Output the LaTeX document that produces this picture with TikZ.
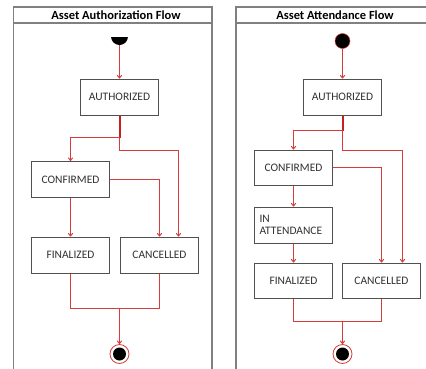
\documentclass[tikz,border=0pt]{standalone}
\usepackage{fontspec}
\setmainfont{Carlito}
\usetikzlibrary{arrows.meta}
\definecolor{flowred}{RGB}{214,60,60}
\definecolor{flowdark}{RGB}{200,30,30}
\definecolor{framegray}{RGB}{128,128,128}
\definecolor{boxgray}{RGB}{80,80,80}
\definecolor{labelgray}{RGB}{50,50,50}
\tikzset{
  panel/.style={draw=framegray, line width=1.2bp},
  title/.style={font=\fontsize{12.5}{14}\selectfont\bfseries, text=black},
  state/.style={draw=boxgray, line width=1bp, fill=white, inner sep=0pt,
    font=\fontsize{11.5}{13}\selectfont, text=labelgray},
  link/.style={color=flowred, line width=1bp},
  flow/.style={link, -{To[length=3.5bp,width=5bp]}},
  trunk/.style={color=flowdark, line width=2bp},
  endstate/.style={circle, draw=flowred, line width=0.8bp, minimum size=19bp, inner sep=0pt,
    path picture={\fill[black] (path picture bounding box.center) circle (6.5bp);}},
}
\begin{document}
\begin{tikzpicture}[x=1bp,y=-1bp]
\clip (0,0) rectangle (426,369);
\fill[white] (0,0) rectangle (426,369);

% ---------- left panel: authorization ----------
\draw[panel] (13.5,380) -- (13.5,7) -- (212,7) -- (212,380);
\draw[panel] (13.5,23) -- (212,23);
\node[title] (ltitle) at (116,15) {Asset Authorization Flow};

\node[circle, minimum size=17bp, inner sep=0pt,
  path picture={\fill[black] (path picture bounding box.south west) rectangle (path picture bounding box.east);}]
  (lstart) at (119.5,36.5) {};
\node[state, minimum width=77bp, minimum height=36bp] (lauth) at (119.5,97) {AUTHORIZED};
\node[state, minimum width=77bp, minimum height=36bp] (lconf) at (70.5,179.5) {CONFIRMED};
\node[state, minimum width=77bp, minimum height=36bp] (lfin) at (70.5,255) {FINALIZED};
\node[state, minimum width=78bp, minimum height=36bp] (lcanc) at (159.5,255) {CANCELLED};
\node[endstate] (lend) at (119.5,354) {};

\coordinate (lsplit) at (119.5,137.5);
\coordinate (lmerge) at (119.5,308.5);

\draw[flow] (lstart.south) -- (lauth.north);
\draw[trunk] ([xshift=0.5bp]lauth.south) -- ([xshift=0.5bp]lsplit);
\draw[flow] (lsplit) -| (lconf.north);
\draw[flow] (lsplit) -- ++(0,13) -| ([xshift=19bp]lcanc.north);
\draw[flow] (lconf.east) -| (lcanc.north);
\draw[flow] (lconf.south) -- (lfin.north);
\draw[link] (lfin.south) |- (lmerge) -| (lcanc.south);
\draw[flow] (lmerge) -- (lend.north);

% ---------- right panel: attendance ----------
\draw[panel] (236,380) -- (236,7) -- (440,7);
\draw[panel] (236,23) -- (440,23);
\node[title] (rtitle) at (335,15) {Asset Attendance Flow};

\node[circle, fill=black, minimum size=15bp, inner sep=0pt] (rstart) at (342.5,41) {};
\draw[flowred, line width=0.5bp] (rstart) circle (7.5);
\node[state, minimum width=77bp, minimum height=36bp] (rauth) at (342.5,97) {AUTHORIZED};
\node[state, minimum width=78bp, minimum height=35bp] (rconf) at (293.5,167.5) {CONFIRMED};
\node[state, minimum width=78bp, minimum height=36bp, align=left, text width=68bp]
  (ratt) at (293.5,225) {IN\\[-1pt]ATTENDANCE};
\node[state, minimum width=78bp, minimum height=35bp] (rfin) at (293.5,280.5) {FINALIZED};
\node[state, minimum width=78bp, minimum height=35bp] (rcanc) at (381.5,280.5) {CANCELLED};
\node[endstate] (rend) at (342.5,354) {};

\coordinate (rsplit) at (342.5,130.5);
\coordinate (rmerge) at (342.5,321.5);

\draw[flow] (rstart.south) -- (rauth.north);
\draw[trunk] ([xshift=0.5bp]rauth.south) -- ([xshift=0.5bp]rsplit);
\draw[flow] (rsplit) -| (rconf.north);
\draw[flow] (rsplit) -- ++(0,20) -| ([xshift=21bp]rcanc.north);
\draw[flow] (rconf.east) -| (rcanc.north);
\draw[flow] (rconf.south) -- (ratt.north);
\draw[flow] (ratt.south) -- (rfin.north);
\draw[link] (rfin.south) |- (rmerge) -| (rcanc.south);
\draw[flow] (rmerge) -- (rend.north);
\end{tikzpicture}
\end{document}
